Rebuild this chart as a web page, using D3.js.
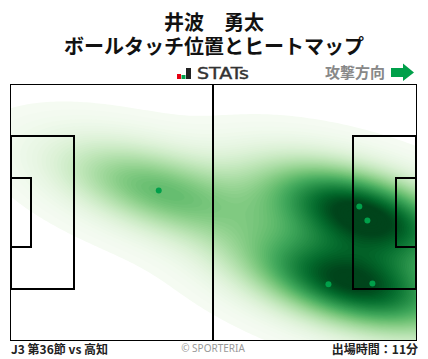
<!DOCTYPE html>
<html>
<head>
<meta charset="utf-8">
<script src="https://cdn.jsdelivr.net/npm/d3@7"></script>
<style>
body { margin: 0; background: #fff; }
text { font-family: "Noto Sans CJK JP", sans-serif; }
</style>
</head>
<body>
<div id="chart"></div>
<script>
// Touch positions in metres from the centre spot
const touchX = [-14.2, 37.8, 39.9, 29.8, 41.2];
const touchY = [-5.9, -1.6, 2.1, 19.1, 18.9];

const titleLines = ["井波　勇太", "ボールタッチ位置とヒートマップ"];
const matchLabel = "J3 第36節 vs 高知";
const minutesLabel = "出場時間：11分";
const logoBars = [5, 4, 11];
const logoColors = ["#e60012", "#00a04a", "#222"];

const width = 428;
const height = 359;
const margin = { top: 85, right: 12, bottom: 19, left: 11 };

const svg = d3.select("#chart")
    .append("svg")
    .attr("width", width)
    .attr("height", height)
    .style("display", "block");

// Pitch scales
const x = d3.scaleLinear().domain([-52.5, 52.5]).range([margin.left, width - margin.right]);
const y = d3.scaleLinear().domain([-34, 34]).range([margin.top, height - margin.bottom]);

// Titles
svg.selectAll(".title")
    .data(titleLines)
    .enter()
    .append("text")
    .attr("class", "title")
    .attr("x", 214)
    .attr("y", (d, i) => 30 + i * 24)
    .attr("text-anchor", "middle")
    .style("font-size", "20px")
    .style("font-weight", "bold")
    .attr("fill", "#111")
    .text(d => d);

// STATs logo
svg.selectAll(".logo")
    .data(logoBars)
    .enter()
    .append("rect")
    .attr("x", (d, i) => 177 + i * 4.5)
    .attr("y", d => 79 - d)
    .attr("width", (d, i) => i === 2 ? 5 : 4)
    .attr("height", d => d)
    .attr("fill", (d, i) => logoColors[i]);

svg.append("text")
    .attr("x", 197)
    .attr("y", 79)
    .style("font-family", "'DejaVu Sans', sans-serif")
    .style("font-size", "15px")
    .attr("textLength", 52)
    .attr("lengthAdjust", "spacingAndGlyphs")
    .attr("stroke", "#333")
    .attr("stroke-width", 0.4)
    .attr("fill", "#333")
    .text("STATs");

// Attack direction
svg.append("text")
    .attr("x", 385)
    .attr("y", 78)
    .attr("text-anchor", "end")
    .style("font-size", "15px")
    .style("font-weight", "bold")
    .attr("fill", "#888")
    .text("攻撃方向");

svg.append("path")
    .attr("d", "M391,68H403V63.5L414,72.5L403,81V77H391Z")
    .attr("fill", "#00a04a");

// Density on a grid, gaussian KDE with the Scott bandwidth on the full covariance
const n = touchX.length;
const mx = d3.mean(touchX), my = d3.mean(touchY);
const factor = Math.pow(n, -1 / 3);
const sxx = d3.sum(touchX, d => (d - mx) * (d - mx)) / (n - 1) * factor;
const syy = d3.sum(touchY, d => (d - my) * (d - my)) / (n - 1) * factor;
const sxy = d3.sum(touchX, (d, i) => (d - mx) * (touchY[i] - my)) / (n - 1) * factor;
const det = sxx * syy - sxy * sxy;

const cols = 135, rows = 85;
const gx = d3.scaleLinear().domain([0, cols - 1]).range(x.domain());
const gy = d3.scaleLinear().domain([0, rows - 1]).range(y.domain());
const grid = new Float64Array(cols * rows);
for (let j = 0; j < rows; j++) {
    for (let i = 0; i < cols; i++) {
        let v = 0;
        for (let k = 0; k < n; k++) {
            const dx = gx(i) - touchX[k], dy = gy(j) - touchY[k];
            v += Math.exp(-0.5 * (syy * dx * dx - 2 * sxy * dx * dy + sxx * dy * dy) / det);
        }
        grid[j * cols + i] = v;
    }
}
const maxV = d3.max(grid);

// Filled contours, palest band starts low so the edge reaches the box on the left
const levels = d3.range(0.015, 1, 0.0125).map(d => d * maxV);
const contours = d3.contours().size([cols, rows]).smooth(true).thresholds(levels)(grid);
const color = d3.scaleSequential(d3.interpolateGreens).domain([0, maxV * 0.92]).clamp(true);

svg.append("clipPath").attr("id", "pitch-clip")
    .append("rect")
    .attr("x", x(-52.5)).attr("y", y(-34))
    .attr("width", x(52.5) - x(-52.5)).attr("height", y(34) - y(-34));

const sx = (x(52.5) - x(-52.5)) / (cols - 1);
const sy = (y(34) - y(-34)) / (rows - 1);
const path = d3.geoPath(d3.geoTransform({
    point(px, py) {
        this.stream.point(x(-52.5) + (px - 0.5) * sx, y(-34) + (py - 0.5) * sy);
    }
}));

svg.append("g")
    .attr("clip-path", "url(#pitch-clip)")
    .selectAll("path")
    .data(contours)
    .enter()
    .append("path")
    .attr("d", path)
    .attr("fill", d => color(d.value));

// Pitch lines, [x0, y0, x1, y1] in metres
const boxes = [
    [-52.5, -20.4, -36.2, 20.4],
    [-52.5, -9.2, -47.3, 9.2],
    [36.2, -20.4, 52.5, 20.4],
    [47.3, -9.2, 52.5, 9.2]
];
const lines = svg.append("g").attr("fill", "none").attr("stroke", "#000").attr("stroke-width", 2);
lines.selectAll("rect")
    .data(boxes)
    .enter()
    .append("rect")
    .attr("x", d => Math.round(x(d[0])))
    .attr("y", d => Math.round(y(d[1])))
    .attr("width", d => Math.round(x(d[2])) - Math.round(x(d[0])))
    .attr("height", d => Math.round(y(d[3])) - Math.round(y(d[1])));

lines.append("line")
    .attr("x1", 213).attr("x2", 213)
    .attr("y1", y(-34)).attr("y2", y(34));

// Border
svg.append("rect")
    .attr("x", x(-52.5) - 0.5).attr("y", y(-34) - 0.5)
    .attr("width", x(52.5) - x(-52.5) + 1).attr("height", y(34) - y(-34) + 1)
    .attr("fill", "none")
    .attr("stroke", "#000")
    .attr("stroke-width", 1);

// Touch points
svg.selectAll(".touch")
    .data(touchX)
    .enter()
    .append("circle")
    .attr("class", "touch")
    .attr("cx", d => x(d))
    .attr("cy", (d, i) => y(touchY[i]))
    .attr("r", 3)
    .attr("fill", "#00a04a");

// Footer
svg.append("text")
    .attr("x", 11).attr("y", 354)
    .style("font-size", "12px").style("font-weight", "bold")
    .attr("fill", "#222")
    .text(matchLabel);

svg.append("text")
    .attr("x", 213).attr("y", 352)
    .attr("text-anchor", "middle")
    .style("font-family", "'Noto Sans', sans-serif")
    .style("font-size", "10px")
    .attr("fill", "#999")
    .text("© SPORTERIA");

svg.append("text")
    .attr("x", 418).attr("y", 354)
    .attr("text-anchor", "end")
    .style("font-size", "12px").style("font-weight", "bold")
    .attr("fill", "#222")
    .text(minutesLabel);
</script>
</body>
</html>
